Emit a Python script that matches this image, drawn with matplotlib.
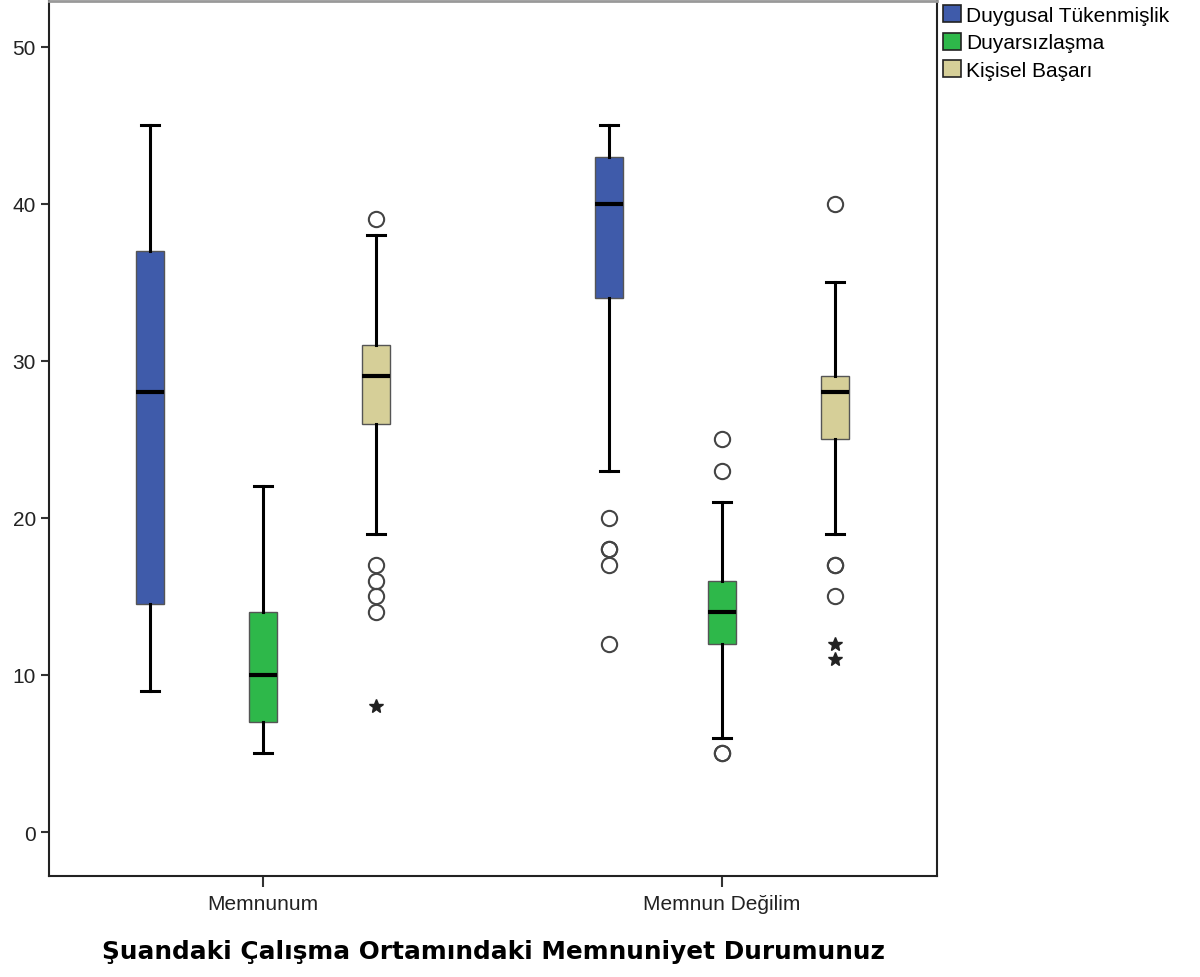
import matplotlib
matplotlib.use("Agg")
import matplotlib.pyplot as plt
from matplotlib.patches import Patch

groups = ["Memnunum", "Memnun Değilim"]
series = ["Duygusal Tükenmişlik", "Duyarsızlaşma", "Kişisel Başarı"]
colors = ["#3F5BAA", "#2EB84A", "#D6CF98"]

# box statistics per group: [low whisker, q1, median, q3, high whisker]
memnunum = [
    [9, 14.5, 28, 37, 45],
    [5, 7, 10, 14, 22],
    [19, 26, 29, 31, 38],
]
memnun_degil = [
    [23, 34, 40, 43, 45],
    [6, 12, 14, 16, 21],
    [19, 25, 28, 29, 35],
]
# outliers (circles) and extremes (stars)
memnunum_out = [[], [], [39, 17, 16, 15, 14]]
memnunum_ext = [[], [], [8]]
memnun_degil_out = [[20, 18, 18, 17, 12], [25, 23, 5, 5], [40, 17, 17, 15]]
memnun_degil_ext = [[], [], [12, 11]]

plt.rcParams['font.family'] = ['Liberation Sans', 'DejaVu Sans']

fig = plt.figure(figsize=(12, 9.78), dpi=100)
ax = fig.add_axes([49 / 1200, 1 - 877 / 978, (937 - 49) / 1200, (877 - 2) / 978])

offset = 0.246
width = 0.061
stats_all = [memnunum, memnun_degil]
outs_all = [memnunum_out, memnun_degil_out]
ext_all = [memnunum_ext, memnun_degil_ext]

for g in range(len(groups)):
    for s in range(len(series)):
        lo, q1, med, q3, hi = stats_all[g][s]
        pos = g + (s - 1) * offset
        st = [dict(whislo=lo, q1=q1, med=med, q3=q3, whishi=hi,
                   fliers=outs_all[g][s], label=series[s])]
        ax.bxp(st, positions=[pos], widths=width, capwidths=0.04,
               patch_artist=True, showfliers=True,
               boxprops=dict(facecolor=colors[s], edgecolor="#555555", linewidth=1),
               medianprops=dict(color="black", linewidth=3),
               whiskerprops=dict(color="black", linewidth=2.2),
               capprops=dict(color="black", linewidth=2.2),
               flierprops=dict(marker="o", markerfacecolor="none",
                               markeredgecolor="#444444", markersize=11,
                               markeredgewidth=1.5))
        if ext_all[g][s]:
            ax.plot([pos] * len(ext_all[g][s]), ext_all[g][s], linestyle="none",
                    marker="*", color="#222222", markersize=10)

ax.set_xlim(-0.466, 1.468)
ax.set_ylim(-2.8, 52.9)
ax.set_xticks([0, 1])
ax.set_xticklabels(groups)
ax.set_yticks([0, 10, 20, 30, 40, 50])
ax.tick_params(axis="y", labelsize=15, length=6, width=1.5, color="#333333",
               labelcolor="#222222")
ax.tick_params(axis="x", labelsize=15, length=8, width=1.5, color="#333333",
               labelcolor="#222222", pad=5)
for sp in ["left", "bottom", "right"]:
    ax.spines[sp].set_linewidth(1.5)
    ax.spines[sp].set_color("#222222")
ax.spines["top"].set_color("#999999")
ax.spines["top"].set_linewidth(2)

ax.set_xlabel("Şuandaki Çalışma Ortamındaki Memnuniyet Durumunuz",
              fontsize=17.8, fontweight="bold", family=["DejaVu Sans"], labelpad=19)

handles = [Patch(facecolor=c, edgecolor="#222222", linewidth=1.2) for c in colors]
fig.legend(handles, series, loc="upper left", bbox_to_anchor=(939 / 1200, 1 - 2 / 978),
           frameon=False, fontsize=15, handlelength=0.85, handleheight=0.9,
           handletextpad=0.25, labelspacing=0.36, borderpad=0.2, borderaxespad=0)

fig.savefig("out.png", dpi=100)
